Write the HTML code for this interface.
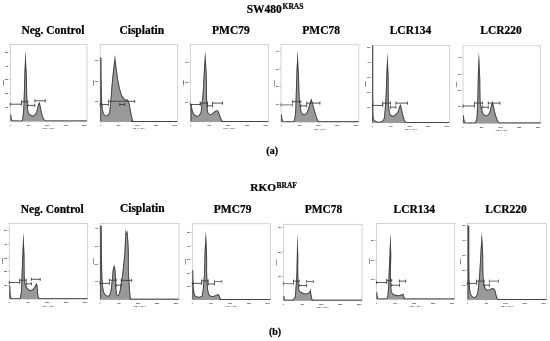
<!DOCTYPE html>
<html><head><meta charset="utf-8"><title>Cell cycle analysis</title>
<style>html,body{margin:0;padding:0;background:#fff}svg{display:block}</style>
</head><body>
<svg width="550" height="341" viewBox="0 0 550 341">
<rect width="550" height="341" fill="#fff"/>
<g font-family="'Liberation Serif', serif" font-weight="bold" fill="#000" stroke="#000" stroke-width="0.22" text-anchor="middle">
<text x="246.7" y="12.5" font-size="11.5" text-anchor="start">SW480<tspan font-size="7.5" x="282.6" y="8.8">KRAS</tspan></text>
<text x="250.3" y="190.7" font-size="11.3" text-anchor="start">RKO<tspan font-size="7.5" x="276.5" y="187.8">BRAF</tspan></text>
<text x="52.90" y="33.7" font-size="11.5">Neg. Control</text>
<text x="141.75" y="33.7" font-size="11.5">Cisplatin</text>
<text x="230.95" y="33.7" font-size="11.5">PMC79</text>
<text x="321.10" y="33.7" font-size="11.5">PMC78</text>
<text x="410.45" y="33.7" font-size="11.5">LCR134</text>
<text x="501.10" y="33.7" font-size="11.5">LCR220</text>
<text x="52.25" y="212.7" font-size="11.5">Neg. Control</text>
<text x="142.25" y="211.9" font-size="11.5">Cisplatin</text>
<text x="232.60" y="212.7" font-size="11.5">PMC79</text>
<text x="323.50" y="212.7" font-size="11.5">PMC78</text>
<text x="414.25" y="212.7" font-size="11.5">LCR134</text>
<text x="506.10" y="212.7" font-size="11.5">LCR220</text>
<text x="272.2" y="154" font-size="10">(a)</text>
<text x="275" y="335.1" font-size="10">(b)</text>
</g>
<g>
<rect x="10.30" y="44.40" width="76.70" height="76.60" fill="none" stroke="#c2c2c2" stroke-width="0.7"/>
<clipPath id="c0"><path d="M10.40,120.55 C10.40,119.54 10.40,115.51 10.40,114.50 C10.53,114.53 11.07,114.67 11.20,114.70 C11.27,115.33 11.33,117.55 11.60,118.50 C11.87,119.45 12.07,120.06 12.80,120.40 C13.53,120.74 14.58,120.53 16.00,120.55 C17.42,120.57 20.22,120.92 21.30,120.50 C22.38,120.08 22.30,118.42 22.50,118.00 C22.68,115.50 23.28,110.17 23.60,103.00 C23.92,95.83 24.08,83.70 24.40,75.00 C24.72,66.30 25.32,54.83 25.50,50.80 C25.70,54.83 26.37,66.30 26.70,75.00 C27.03,83.70 27.17,96.80 27.50,103.00 C27.83,109.20 28.20,110.27 28.70,112.20 C29.20,114.13 29.87,114.00 30.50,114.60 C31.13,115.20 31.83,115.80 32.50,115.80 C33.17,115.80 33.88,115.20 34.50,114.60 C35.12,114.00 35.62,113.80 36.20,112.20 C36.78,110.60 37.47,106.75 38.00,105.00 C38.53,103.25 39.17,102.25 39.40,101.70 C39.60,102.42 40.20,104.25 40.60,106.00 C41.00,107.75 41.32,110.20 41.80,112.20 C42.28,114.20 42.77,116.61 43.50,118.00 C44.23,119.39 45.12,120.12 46.20,120.55 C47.28,120.97 43.20,120.55 50.00,120.55 C56.80,120.55 80.83,120.55 87.00,120.55 L87.00,121.50 L10.40,121.50 Z"/></clipPath>
<path d="M10.40,120.55 C10.40,119.54 10.40,115.51 10.40,114.50 C10.53,114.53 11.07,114.67 11.20,114.70 C11.27,115.33 11.33,117.55 11.60,118.50 C11.87,119.45 12.07,120.06 12.80,120.40 C13.53,120.74 14.58,120.53 16.00,120.55 C17.42,120.57 20.22,120.92 21.30,120.50 C22.38,120.08 22.30,118.42 22.50,118.00 C22.68,115.50 23.28,110.17 23.60,103.00 C23.92,95.83 24.08,83.70 24.40,75.00 C24.72,66.30 25.32,54.83 25.50,50.80 C25.70,54.83 26.37,66.30 26.70,75.00 C27.03,83.70 27.17,96.80 27.50,103.00 C27.83,109.20 28.20,110.27 28.70,112.20 C29.20,114.13 29.87,114.00 30.50,114.60 C31.13,115.20 31.83,115.80 32.50,115.80 C33.17,115.80 33.88,115.20 34.50,114.60 C35.12,114.00 35.62,113.80 36.20,112.20 C36.78,110.60 37.47,106.75 38.00,105.00 C38.53,103.25 39.17,102.25 39.40,101.70 C39.60,102.42 40.20,104.25 40.60,106.00 C41.00,107.75 41.32,110.20 41.80,112.20 C42.28,114.20 42.77,116.61 43.50,118.00 C44.23,119.39 45.12,120.12 46.20,120.55 C47.28,120.97 43.20,120.55 50.00,120.55 C56.80,120.55 80.83,120.55 87.00,120.55 L87.00,121.50 L10.40,121.50 Z" fill="#999" stroke="none"/>
<path d="M10.40,120.55 C10.40,119.54 10.40,115.51 10.40,114.50 C10.53,114.53 11.07,114.67 11.20,114.70 C11.27,115.33 11.33,117.55 11.60,118.50 C11.87,119.45 12.07,120.06 12.80,120.40 C13.53,120.74 14.58,120.53 16.00,120.55 C17.42,120.57 20.22,120.92 21.30,120.50 C22.38,120.08 22.30,118.42 22.50,118.00 C22.68,115.50 23.28,110.17 23.60,103.00 C23.92,95.83 24.08,83.70 24.40,75.00 C24.72,66.30 25.32,54.83 25.50,50.80 C25.70,54.83 26.37,66.30 26.70,75.00 C27.03,83.70 27.17,96.80 27.50,103.00 C27.83,109.20 28.20,110.27 28.70,112.20 C29.20,114.13 29.87,114.00 30.50,114.60 C31.13,115.20 31.83,115.80 32.50,115.80 C33.17,115.80 33.88,115.20 34.50,114.60 C35.12,114.00 35.62,113.80 36.20,112.20 C36.78,110.60 37.47,106.75 38.00,105.00 C38.53,103.25 39.17,102.25 39.40,101.70 C39.60,102.42 40.20,104.25 40.60,106.00 C41.00,107.75 41.32,110.20 41.80,112.20 C42.28,114.20 42.77,116.61 43.50,118.00 C44.23,119.39 45.12,120.12 46.20,120.55 C47.28,120.97 43.20,120.55 50.00,120.55 C56.80,120.55 80.83,120.55 87.00,120.55" clip-path="url(#c0)" fill="none" stroke="#444" stroke-width="1.9" stroke-linejoin="round"/>
<path d="M10.30,104.20 H21.60 M10.30,102.70 v3 M21.60,102.70 v3 M21.60,101.70 H27.80 M21.60,100.20 v3 M27.80,100.20 v3 M27.80,105.40 H34.80 M27.80,103.90 v3 M34.80,103.90 v3 M34.80,100.80 H45.30 M34.80,99.30 v3 M45.30,99.30 v3 " fill="none" stroke="#383838" stroke-width="0.85"/>
<g font-family="'Liberation Sans', sans-serif" font-size="1.9" font-weight="bold" fill="#222" text-anchor="middle">
<text x="10.30" y="125.50">0</text>
<text x="28.81" y="125.50">50K</text>
<text x="47.31" y="125.50">100K</text>
<text x="65.82" y="125.50">150K</text>
<text x="84.33" y="125.50">200K</text>
<text x="48.65" y="128.70">FL2-A :: PE-A</text>
<text x="8.10" y="108.00" text-anchor="end">100</text>
<text x="8.10" y="94.20" text-anchor="end">200</text>
<text x="8.10" y="80.40" text-anchor="end">300</text>
<text x="8.10" y="66.60" text-anchor="end">400</text>
<text x="8.10" y="52.80" text-anchor="end">500</text>
<path d="M10.30,107.20 h-1.6 M10.30,93.40 h-1.6 M10.30,79.60 h-1.6 M10.30,65.80 h-1.6 M10.30,52.00 h-1.6 M10.30,121.00 v1.4 M28.81,121.00 v1.4 M47.31,121.00 v1.4 M65.82,121.00 v1.4 M84.33,121.00 v1.4 " fill="none" stroke="#999" stroke-width="0.5"/>
<text font-size="2" transform="translate(3.90,82.70) rotate(-90)">Count</text>
</g>
</g>
<g>
<rect x="100.20" y="44.40" width="77.30" height="77.10" fill="none" stroke="#c2c2c2" stroke-width="0.7"/>
<clipPath id="c1"><path d="M100.30,121.05 C100.30,110.46 100.30,68.09 100.30,57.50 C100.48,57.53 101.22,57.67 101.40,57.70 C101.43,61.42 101.47,72.45 101.60,80.00 C101.73,87.55 101.88,97.63 102.20,103.00 C102.52,108.37 103.03,110.22 103.50,112.20 C103.97,114.18 104.50,114.37 105.00,114.90 C105.50,115.43 106.00,115.45 106.50,115.40 C107.00,115.35 107.53,115.13 108.00,114.60 C108.47,114.07 109.08,112.60 109.30,112.20 C109.45,110.67 109.92,106.03 110.20,103.00 C110.48,99.97 110.70,97.67 111.00,94.00 C111.30,90.33 111.35,87.45 112.00,81.00 C112.65,74.55 114.42,59.58 114.90,55.30 C115.48,59.58 117.30,74.55 118.40,81.00 C119.50,87.45 120.65,91.23 121.50,94.00 C122.35,96.77 122.88,96.68 123.50,97.60 C124.12,98.52 124.78,99.13 125.20,99.50 C125.62,99.87 125.70,99.85 126.00,99.80 C126.30,99.75 126.67,99.12 127.00,99.20 C127.33,99.28 127.62,99.67 128.00,100.30 C128.38,100.93 128.78,101.02 129.30,103.00 C129.82,104.98 130.60,109.70 131.10,112.20 C131.60,114.70 131.92,116.53 132.30,118.00 C132.68,119.47 132.78,120.49 133.40,121.00 C134.02,121.51 128.65,121.04 136.00,121.05 C143.35,121.06 170.58,121.05 177.50,121.05 L177.50,122.00 L100.30,122.00 Z"/></clipPath>
<path d="M100.30,121.05 C100.30,110.46 100.30,68.09 100.30,57.50 C100.48,57.53 101.22,57.67 101.40,57.70 C101.43,61.42 101.47,72.45 101.60,80.00 C101.73,87.55 101.88,97.63 102.20,103.00 C102.52,108.37 103.03,110.22 103.50,112.20 C103.97,114.18 104.50,114.37 105.00,114.90 C105.50,115.43 106.00,115.45 106.50,115.40 C107.00,115.35 107.53,115.13 108.00,114.60 C108.47,114.07 109.08,112.60 109.30,112.20 C109.45,110.67 109.92,106.03 110.20,103.00 C110.48,99.97 110.70,97.67 111.00,94.00 C111.30,90.33 111.35,87.45 112.00,81.00 C112.65,74.55 114.42,59.58 114.90,55.30 C115.48,59.58 117.30,74.55 118.40,81.00 C119.50,87.45 120.65,91.23 121.50,94.00 C122.35,96.77 122.88,96.68 123.50,97.60 C124.12,98.52 124.78,99.13 125.20,99.50 C125.62,99.87 125.70,99.85 126.00,99.80 C126.30,99.75 126.67,99.12 127.00,99.20 C127.33,99.28 127.62,99.67 128.00,100.30 C128.38,100.93 128.78,101.02 129.30,103.00 C129.82,104.98 130.60,109.70 131.10,112.20 C131.60,114.70 131.92,116.53 132.30,118.00 C132.68,119.47 132.78,120.49 133.40,121.00 C134.02,121.51 128.65,121.04 136.00,121.05 C143.35,121.06 170.58,121.05 177.50,121.05 L177.50,122.00 L100.30,122.00 Z" fill="#999" stroke="none"/>
<path d="M100.30,121.05 C100.30,110.46 100.30,68.09 100.30,57.50 C100.48,57.53 101.22,57.67 101.40,57.70 C101.43,61.42 101.47,72.45 101.60,80.00 C101.73,87.55 101.88,97.63 102.20,103.00 C102.52,108.37 103.03,110.22 103.50,112.20 C103.97,114.18 104.50,114.37 105.00,114.90 C105.50,115.43 106.00,115.45 106.50,115.40 C107.00,115.35 107.53,115.13 108.00,114.60 C108.47,114.07 109.08,112.60 109.30,112.20 C109.45,110.67 109.92,106.03 110.20,103.00 C110.48,99.97 110.70,97.67 111.00,94.00 C111.30,90.33 111.35,87.45 112.00,81.00 C112.65,74.55 114.42,59.58 114.90,55.30 C115.48,59.58 117.30,74.55 118.40,81.00 C119.50,87.45 120.65,91.23 121.50,94.00 C122.35,96.77 122.88,96.68 123.50,97.60 C124.12,98.52 124.78,99.13 125.20,99.50 C125.62,99.87 125.70,99.85 126.00,99.80 C126.30,99.75 126.67,99.12 127.00,99.20 C127.33,99.28 127.62,99.67 128.00,100.30 C128.38,100.93 128.78,101.02 129.30,103.00 C129.82,104.98 130.60,109.70 131.10,112.20 C131.60,114.70 131.92,116.53 132.30,118.00 C132.68,119.47 132.78,120.49 133.40,121.00 C134.02,121.51 128.65,121.04 136.00,121.05 C143.35,121.06 170.58,121.05 177.50,121.05" clip-path="url(#c1)" fill="none" stroke="#444" stroke-width="1.9" stroke-linejoin="round"/>
<path d="M100.20,104.50 H108.40 M100.20,103.00 v3 M108.40,103.00 v3 M108.40,101.30 H134.70 M108.40,99.80 v3 M134.70,99.80 v3 M119.70,104.50 H124.70 M119.70,103.00 v3 M124.70,103.00 v3 " fill="none" stroke="#383838" stroke-width="0.85"/>
<g font-family="'Liberation Sans', sans-serif" font-size="1.9" font-weight="bold" fill="#222" text-anchor="middle">
<text x="100.20" y="126.00">0</text>
<text x="118.85" y="126.00">50K</text>
<text x="137.50" y="126.00">100K</text>
<text x="156.16" y="126.00">150K</text>
<text x="174.81" y="126.00">200K</text>
<text x="138.85" y="129.20">FL2-A :: PE-A</text>
<text x="98.00" y="102.00" text-anchor="end">100</text>
<text x="98.00" y="81.70" text-anchor="end">200</text>
<text x="98.00" y="61.40" text-anchor="end">300</text>
<path d="M100.20,101.20 h-1.6 M100.20,80.90 h-1.6 M100.20,60.60 h-1.6 M100.20,121.50 v1.4 M118.85,121.50 v1.4 M137.50,121.50 v1.4 M156.16,121.50 v1.4 M174.81,121.50 v1.4 " fill="none" stroke="#999" stroke-width="0.5"/>
<text font-size="2" transform="translate(93.80,82.95) rotate(-90)">Count</text>
</g>
</g>
<g>
<rect x="190.50" y="44.30" width="78.00" height="77.20" fill="none" stroke="#c2c2c2" stroke-width="0.7"/>
<clipPath id="c2"><path d="M190.60,121.05 C190.60,118.21 190.60,106.84 190.60,104.00 C190.75,104.03 191.35,104.17 191.50,104.20 C191.60,104.83 191.82,106.67 192.10,108.00 C192.38,109.33 192.72,111.03 193.20,112.20 C193.68,113.37 194.35,114.40 195.00,115.00 C195.65,115.60 196.43,115.82 197.10,115.80 C197.77,115.78 198.40,115.50 199.00,114.90 C199.60,114.30 200.42,112.65 200.70,112.20 C200.87,110.67 201.38,106.03 201.70,103.00 C202.02,99.97 202.27,98.67 202.60,94.00 C202.93,89.33 203.27,82.15 203.70,75.00 C204.13,67.85 204.95,55.08 205.20,51.10 C205.45,55.08 206.40,67.85 206.70,75.00 C207.00,82.15 206.90,89.33 207.00,94.00 C207.10,98.67 207.10,99.97 207.30,103.00 C207.50,106.03 207.70,110.33 208.20,112.20 C208.70,114.07 209.58,114.03 210.30,114.20 C211.02,114.37 211.72,113.73 212.50,113.20 C213.28,112.67 214.23,111.50 215.00,111.00 C215.77,110.50 216.47,110.03 217.10,110.20 C217.73,110.37 218.23,110.92 218.80,112.00 C219.37,113.08 220.00,115.40 220.50,116.70 C221.00,118.00 221.38,119.08 221.80,119.80 C222.22,120.52 222.13,120.84 223.00,121.05 C223.87,121.26 219.42,121.05 227.00,121.05 C234.58,121.05 261.58,121.05 268.50,121.05 L268.50,122.00 L190.60,122.00 Z"/></clipPath>
<path d="M190.60,121.05 C190.60,118.21 190.60,106.84 190.60,104.00 C190.75,104.03 191.35,104.17 191.50,104.20 C191.60,104.83 191.82,106.67 192.10,108.00 C192.38,109.33 192.72,111.03 193.20,112.20 C193.68,113.37 194.35,114.40 195.00,115.00 C195.65,115.60 196.43,115.82 197.10,115.80 C197.77,115.78 198.40,115.50 199.00,114.90 C199.60,114.30 200.42,112.65 200.70,112.20 C200.87,110.67 201.38,106.03 201.70,103.00 C202.02,99.97 202.27,98.67 202.60,94.00 C202.93,89.33 203.27,82.15 203.70,75.00 C204.13,67.85 204.95,55.08 205.20,51.10 C205.45,55.08 206.40,67.85 206.70,75.00 C207.00,82.15 206.90,89.33 207.00,94.00 C207.10,98.67 207.10,99.97 207.30,103.00 C207.50,106.03 207.70,110.33 208.20,112.20 C208.70,114.07 209.58,114.03 210.30,114.20 C211.02,114.37 211.72,113.73 212.50,113.20 C213.28,112.67 214.23,111.50 215.00,111.00 C215.77,110.50 216.47,110.03 217.10,110.20 C217.73,110.37 218.23,110.92 218.80,112.00 C219.37,113.08 220.00,115.40 220.50,116.70 C221.00,118.00 221.38,119.08 221.80,119.80 C222.22,120.52 222.13,120.84 223.00,121.05 C223.87,121.26 219.42,121.05 227.00,121.05 C234.58,121.05 261.58,121.05 268.50,121.05 L268.50,122.00 L190.60,122.00 Z" fill="#999" stroke="none"/>
<path d="M190.60,121.05 C190.60,118.21 190.60,106.84 190.60,104.00 C190.75,104.03 191.35,104.17 191.50,104.20 C191.60,104.83 191.82,106.67 192.10,108.00 C192.38,109.33 192.72,111.03 193.20,112.20 C193.68,113.37 194.35,114.40 195.00,115.00 C195.65,115.60 196.43,115.82 197.10,115.80 C197.77,115.78 198.40,115.50 199.00,114.90 C199.60,114.30 200.42,112.65 200.70,112.20 C200.87,110.67 201.38,106.03 201.70,103.00 C202.02,99.97 202.27,98.67 202.60,94.00 C202.93,89.33 203.27,82.15 203.70,75.00 C204.13,67.85 204.95,55.08 205.20,51.10 C205.45,55.08 206.40,67.85 206.70,75.00 C207.00,82.15 206.90,89.33 207.00,94.00 C207.10,98.67 207.10,99.97 207.30,103.00 C207.50,106.03 207.70,110.33 208.20,112.20 C208.70,114.07 209.58,114.03 210.30,114.20 C211.02,114.37 211.72,113.73 212.50,113.20 C213.28,112.67 214.23,111.50 215.00,111.00 C215.77,110.50 216.47,110.03 217.10,110.20 C217.73,110.37 218.23,110.92 218.80,112.00 C219.37,113.08 220.00,115.40 220.50,116.70 C221.00,118.00 221.38,119.08 221.80,119.80 C222.22,120.52 222.13,120.84 223.00,121.05 C223.87,121.26 219.42,121.05 227.00,121.05 C234.58,121.05 261.58,121.05 268.50,121.05" clip-path="url(#c2)" fill="none" stroke="#444" stroke-width="1.9" stroke-linejoin="round"/>
<path d="M190.50,104.50 H200.30 M190.50,103.00 v3 M200.30,103.00 v3 M200.30,103.10 H207.50 M200.30,101.60 v3 M207.50,101.60 v3 M207.50,105.80 H212.50 M207.50,104.30 v3 M212.50,104.30 v3 M212.50,103.10 H222.50 M212.50,101.60 v3 M222.50,101.60 v3 " fill="none" stroke="#383838" stroke-width="0.85"/>
<g font-family="'Liberation Sans', sans-serif" font-size="1.9" font-weight="bold" fill="#222" text-anchor="middle">
<text x="190.50" y="126.00">0</text>
<text x="209.32" y="126.00">50K</text>
<text x="228.14" y="126.00">100K</text>
<text x="246.96" y="126.00">150K</text>
<text x="265.78" y="126.00">200K</text>
<text x="229.50" y="129.20">FL2-A :: PE-A</text>
<text x="188.30" y="102.60" text-anchor="end">100</text>
<text x="188.30" y="82.90" text-anchor="end">200</text>
<text x="188.30" y="63.20" text-anchor="end">300</text>
<path d="M190.50,101.80 h-1.6 M190.50,82.10 h-1.6 M190.50,62.40 h-1.6 M190.50,121.50 v1.4 M209.32,121.50 v1.4 M228.14,121.50 v1.4 M246.96,121.50 v1.4 M265.78,121.50 v1.4 " fill="none" stroke="#999" stroke-width="0.5"/>
<text font-size="2" transform="translate(184.10,82.90) rotate(-90)">Count</text>
</g>
</g>
<g>
<rect x="281.00" y="44.70" width="77.80" height="77.10" fill="none" stroke="#c2c2c2" stroke-width="0.7"/>
<clipPath id="c3"><path d="M281.10,121.35 C281.10,120.21 281.10,115.64 281.10,114.50 C281.23,114.53 281.77,114.67 281.90,114.70 C281.98,115.42 282.10,117.92 282.40,119.00 C282.70,120.08 282.77,120.81 283.70,121.20 C284.63,121.59 286.45,121.33 288.00,121.35 C289.55,121.37 292.00,121.52 293.00,121.30 C294.00,121.08 293.83,120.22 294.00,120.00 C294.20,118.70 294.90,116.53 295.20,112.20 C295.50,107.87 295.60,100.20 295.80,94.00 C296.00,87.80 296.10,82.25 296.40,75.00 C296.70,67.75 297.40,54.58 297.60,50.50 C297.82,54.58 298.58,67.75 298.90,75.00 C299.22,82.25 299.30,89.33 299.50,94.00 C299.70,98.67 299.73,99.97 300.10,103.00 C300.47,106.03 301.17,110.40 301.70,112.20 C302.23,114.00 302.77,113.47 303.30,113.80 C303.83,114.13 304.32,114.50 304.90,114.20 C305.48,113.90 306.20,113.10 306.80,112.00 C307.40,110.90 307.97,109.27 308.50,107.60 C309.03,105.93 309.53,103.52 310.00,102.00 C310.47,100.48 311.08,99.08 311.30,98.50 C311.50,99.08 312.05,100.48 312.50,102.00 C312.95,103.52 313.30,105.15 314.00,107.60 C314.70,110.05 316.00,114.63 316.70,116.70 C317.40,118.77 317.73,119.22 318.20,120.00 C318.67,120.78 318.53,121.12 319.50,121.35 C320.47,121.57 317.45,121.35 324.00,121.35 C330.55,121.35 353.00,121.35 358.80,121.35 L358.80,122.30 L281.10,122.30 Z"/></clipPath>
<path d="M281.10,121.35 C281.10,120.21 281.10,115.64 281.10,114.50 C281.23,114.53 281.77,114.67 281.90,114.70 C281.98,115.42 282.10,117.92 282.40,119.00 C282.70,120.08 282.77,120.81 283.70,121.20 C284.63,121.59 286.45,121.33 288.00,121.35 C289.55,121.37 292.00,121.52 293.00,121.30 C294.00,121.08 293.83,120.22 294.00,120.00 C294.20,118.70 294.90,116.53 295.20,112.20 C295.50,107.87 295.60,100.20 295.80,94.00 C296.00,87.80 296.10,82.25 296.40,75.00 C296.70,67.75 297.40,54.58 297.60,50.50 C297.82,54.58 298.58,67.75 298.90,75.00 C299.22,82.25 299.30,89.33 299.50,94.00 C299.70,98.67 299.73,99.97 300.10,103.00 C300.47,106.03 301.17,110.40 301.70,112.20 C302.23,114.00 302.77,113.47 303.30,113.80 C303.83,114.13 304.32,114.50 304.90,114.20 C305.48,113.90 306.20,113.10 306.80,112.00 C307.40,110.90 307.97,109.27 308.50,107.60 C309.03,105.93 309.53,103.52 310.00,102.00 C310.47,100.48 311.08,99.08 311.30,98.50 C311.50,99.08 312.05,100.48 312.50,102.00 C312.95,103.52 313.30,105.15 314.00,107.60 C314.70,110.05 316.00,114.63 316.70,116.70 C317.40,118.77 317.73,119.22 318.20,120.00 C318.67,120.78 318.53,121.12 319.50,121.35 C320.47,121.57 317.45,121.35 324.00,121.35 C330.55,121.35 353.00,121.35 358.80,121.35 L358.80,122.30 L281.10,122.30 Z" fill="#999" stroke="none"/>
<path d="M281.10,121.35 C281.10,120.21 281.10,115.64 281.10,114.50 C281.23,114.53 281.77,114.67 281.90,114.70 C281.98,115.42 282.10,117.92 282.40,119.00 C282.70,120.08 282.77,120.81 283.70,121.20 C284.63,121.59 286.45,121.33 288.00,121.35 C289.55,121.37 292.00,121.52 293.00,121.30 C294.00,121.08 293.83,120.22 294.00,120.00 C294.20,118.70 294.90,116.53 295.20,112.20 C295.50,107.87 295.60,100.20 295.80,94.00 C296.00,87.80 296.10,82.25 296.40,75.00 C296.70,67.75 297.40,54.58 297.60,50.50 C297.82,54.58 298.58,67.75 298.90,75.00 C299.22,82.25 299.30,89.33 299.50,94.00 C299.70,98.67 299.73,99.97 300.10,103.00 C300.47,106.03 301.17,110.40 301.70,112.20 C302.23,114.00 302.77,113.47 303.30,113.80 C303.83,114.13 304.32,114.50 304.90,114.20 C305.48,113.90 306.20,113.10 306.80,112.00 C307.40,110.90 307.97,109.27 308.50,107.60 C309.03,105.93 309.53,103.52 310.00,102.00 C310.47,100.48 311.08,99.08 311.30,98.50 C311.50,99.08 312.05,100.48 312.50,102.00 C312.95,103.52 313.30,105.15 314.00,107.60 C314.70,110.05 316.00,114.63 316.70,116.70 C317.40,118.77 317.73,119.22 318.20,120.00 C318.67,120.78 318.53,121.12 319.50,121.35 C320.47,121.57 317.45,121.35 324.00,121.35 C330.55,121.35 353.00,121.35 358.80,121.35" clip-path="url(#c3)" fill="none" stroke="#444" stroke-width="1.9" stroke-linejoin="round"/>
<path d="M292.60,101.70 H300.80 M292.60,100.20 v3 M300.80,100.20 v3 M300.80,105.80 H306.70 M300.80,104.30 v3 M306.70,104.30 v3 M306.70,103.10 H319.90 M306.70,101.60 v3 M319.90,101.60 v3 " fill="none" stroke="#383838" stroke-width="0.85"/>
<path d="M281.00,104.90 H292.60 M281.00,103.40 v3 M292.60,103.40 v3 " fill="none" stroke="#606060" stroke-width="0.85"/>
<g font-family="'Liberation Sans', sans-serif" font-size="1.9" font-weight="bold" fill="#222" text-anchor="middle">
<text x="281.00" y="126.30">0</text>
<text x="299.77" y="126.30">50K</text>
<text x="318.54" y="126.30">100K</text>
<text x="337.32" y="126.30">150K</text>
<text x="356.09" y="126.30">200K</text>
<text x="319.90" y="129.50">FL2-A :: PE-A</text>
<text x="278.80" y="104.90" text-anchor="end">100</text>
<text x="278.80" y="87.20" text-anchor="end">200</text>
<text x="278.80" y="69.50" text-anchor="end">300</text>
<text x="278.80" y="51.80" text-anchor="end">400</text>
<path d="M281.00,104.10 h-1.6 M281.00,86.40 h-1.6 M281.00,68.70 h-1.6 M281.00,51.00 h-1.6 M281.00,121.80 v1.4 M299.77,121.80 v1.4 M318.54,121.80 v1.4 M337.32,121.80 v1.4 M356.09,121.80 v1.4 " fill="none" stroke="#999" stroke-width="0.5"/>
<text font-size="2" transform="translate(274.60,83.25) rotate(-90)">Count</text>
</g>
</g>
<g>
<rect x="372.50" y="45.40" width="77.00" height="77.10" fill="none" stroke="#c2c2c2" stroke-width="0.7"/>
<clipPath id="c4"><path d="M372.20,122.05 C372.20,109.31 372.20,58.34 372.20,45.60 C372.37,45.60 373.03,45.60 373.20,45.60 C373.22,54.67 373.23,88.15 373.30,100.00 C373.37,111.85 373.30,113.30 373.60,116.70 C373.90,120.10 374.33,119.57 375.10,120.40 C375.87,121.23 377.22,121.53 378.20,121.70 C379.18,121.87 380.25,121.60 381.00,121.40 C381.75,121.20 382.42,120.65 382.70,120.50 C382.93,119.87 383.68,119.60 384.10,116.70 C384.52,113.80 384.93,106.88 385.20,103.10 C385.47,99.32 385.50,98.68 385.70,94.00 C385.90,89.32 386.10,81.90 386.40,75.00 C386.70,68.10 387.32,56.33 387.50,52.60 C387.67,56.33 388.30,68.10 388.50,75.00 C388.70,81.90 388.63,89.32 388.70,94.00 C388.77,98.68 388.72,100.07 388.90,103.10 C389.08,106.13 389.45,110.25 389.80,112.20 C390.15,114.15 390.52,114.20 391.00,114.80 C391.48,115.40 392.03,115.80 392.70,115.80 C393.37,115.80 394.23,115.40 395.00,114.80 C395.77,114.20 396.63,113.42 397.30,112.20 C397.97,110.98 398.47,108.87 399.00,107.50 C399.53,106.13 400.25,104.58 400.50,104.00 C400.67,104.58 401.17,106.13 401.50,107.50 C401.83,108.87 402.00,110.20 402.50,112.20 C403.00,114.20 403.95,117.95 404.50,119.50 C405.05,121.05 405.33,121.08 405.80,121.50 C406.27,121.92 406.27,121.96 407.30,122.05 C408.33,122.14 404.97,122.05 412.00,122.05 C419.03,122.05 443.25,122.05 449.50,122.05 L449.50,123.00 L372.20,123.00 Z"/></clipPath>
<path d="M372.20,122.05 C372.20,109.31 372.20,58.34 372.20,45.60 C372.37,45.60 373.03,45.60 373.20,45.60 C373.22,54.67 373.23,88.15 373.30,100.00 C373.37,111.85 373.30,113.30 373.60,116.70 C373.90,120.10 374.33,119.57 375.10,120.40 C375.87,121.23 377.22,121.53 378.20,121.70 C379.18,121.87 380.25,121.60 381.00,121.40 C381.75,121.20 382.42,120.65 382.70,120.50 C382.93,119.87 383.68,119.60 384.10,116.70 C384.52,113.80 384.93,106.88 385.20,103.10 C385.47,99.32 385.50,98.68 385.70,94.00 C385.90,89.32 386.10,81.90 386.40,75.00 C386.70,68.10 387.32,56.33 387.50,52.60 C387.67,56.33 388.30,68.10 388.50,75.00 C388.70,81.90 388.63,89.32 388.70,94.00 C388.77,98.68 388.72,100.07 388.90,103.10 C389.08,106.13 389.45,110.25 389.80,112.20 C390.15,114.15 390.52,114.20 391.00,114.80 C391.48,115.40 392.03,115.80 392.70,115.80 C393.37,115.80 394.23,115.40 395.00,114.80 C395.77,114.20 396.63,113.42 397.30,112.20 C397.97,110.98 398.47,108.87 399.00,107.50 C399.53,106.13 400.25,104.58 400.50,104.00 C400.67,104.58 401.17,106.13 401.50,107.50 C401.83,108.87 402.00,110.20 402.50,112.20 C403.00,114.20 403.95,117.95 404.50,119.50 C405.05,121.05 405.33,121.08 405.80,121.50 C406.27,121.92 406.27,121.96 407.30,122.05 C408.33,122.14 404.97,122.05 412.00,122.05 C419.03,122.05 443.25,122.05 449.50,122.05 L449.50,123.00 L372.20,123.00 Z" fill="#999" stroke="none"/>
<path d="M372.20,122.05 C372.20,109.31 372.20,58.34 372.20,45.60 C372.37,45.60 373.03,45.60 373.20,45.60 C373.22,54.67 373.23,88.15 373.30,100.00 C373.37,111.85 373.30,113.30 373.60,116.70 C373.90,120.10 374.33,119.57 375.10,120.40 C375.87,121.23 377.22,121.53 378.20,121.70 C379.18,121.87 380.25,121.60 381.00,121.40 C381.75,121.20 382.42,120.65 382.70,120.50 C382.93,119.87 383.68,119.60 384.10,116.70 C384.52,113.80 384.93,106.88 385.20,103.10 C385.47,99.32 385.50,98.68 385.70,94.00 C385.90,89.32 386.10,81.90 386.40,75.00 C386.70,68.10 387.32,56.33 387.50,52.60 C387.67,56.33 388.30,68.10 388.50,75.00 C388.70,81.90 388.63,89.32 388.70,94.00 C388.77,98.68 388.72,100.07 388.90,103.10 C389.08,106.13 389.45,110.25 389.80,112.20 C390.15,114.15 390.52,114.20 391.00,114.80 C391.48,115.40 392.03,115.80 392.70,115.80 C393.37,115.80 394.23,115.40 395.00,114.80 C395.77,114.20 396.63,113.42 397.30,112.20 C397.97,110.98 398.47,108.87 399.00,107.50 C399.53,106.13 400.25,104.58 400.50,104.00 C400.67,104.58 401.17,106.13 401.50,107.50 C401.83,108.87 402.00,110.20 402.50,112.20 C403.00,114.20 403.95,117.95 404.50,119.50 C405.05,121.05 405.33,121.08 405.80,121.50 C406.27,121.92 406.27,121.96 407.30,122.05 C408.33,122.14 404.97,122.05 412.00,122.05 C419.03,122.05 443.25,122.05 449.50,122.05" clip-path="url(#c4)" fill="none" stroke="#444" stroke-width="1.9" stroke-linejoin="round"/>
<path d="M372.50,105.40 H382.70 M372.50,103.90 v3 M382.70,103.90 v3 M382.70,103.10 H390.50 M382.70,101.60 v3 M390.50,101.60 v3 M390.50,107.20 H395.90 M390.50,105.70 v3 M395.90,105.70 v3 M395.90,103.10 H407.50 M395.90,101.60 v3 M407.50,101.60 v3 " fill="none" stroke="#383838" stroke-width="0.85"/>
<g font-family="'Liberation Sans', sans-serif" font-size="1.9" font-weight="bold" fill="#222" text-anchor="middle">
<text x="372.50" y="127.00">0</text>
<text x="391.08" y="127.00">50K</text>
<text x="409.66" y="127.00">100K</text>
<text x="428.24" y="127.00">150K</text>
<text x="446.82" y="127.00">200K</text>
<text x="411.00" y="130.20">FL2-A :: PE-A</text>
<text x="370.30" y="108.20" text-anchor="end">100</text>
<text x="370.30" y="93.10" text-anchor="end">200</text>
<text x="370.30" y="78.00" text-anchor="end">300</text>
<text x="370.30" y="62.90" text-anchor="end">400</text>
<text x="370.30" y="47.80" text-anchor="end">500</text>
<path d="M372.50,107.40 h-1.6 M372.50,92.30 h-1.6 M372.50,77.20 h-1.6 M372.50,62.10 h-1.6 M372.50,47.00 h-1.6 M372.50,122.50 v1.4 M391.08,122.50 v1.4 M409.66,122.50 v1.4 M428.24,122.50 v1.4 M446.82,122.50 v1.4 " fill="none" stroke="#999" stroke-width="0.5"/>
<text font-size="2" transform="translate(366.10,83.95) rotate(-90)">Count</text>
</g>
</g>
<g>
<rect x="463.00" y="45.80" width="77.70" height="77.20" fill="none" stroke="#c2c2c2" stroke-width="0.7"/>
<clipPath id="c5"><path d="M463.10,122.55 C463.10,121.36 463.10,116.59 463.10,115.40 C463.23,115.43 463.77,115.57 463.90,115.60 C463.98,116.33 464.10,118.87 464.40,120.00 C464.70,121.13 464.77,121.98 465.70,122.40 C466.63,122.83 468.53,122.53 470.00,122.55 C471.47,122.57 473.58,122.72 474.50,122.55 C475.42,122.38 475.33,121.67 475.50,121.50 C475.68,120.70 476.27,121.28 476.60,116.70 C476.93,112.12 477.28,100.95 477.50,94.00 C477.72,87.05 477.67,82.00 477.90,75.00 C478.13,68.00 478.73,55.83 478.90,52.00 C479.10,55.83 479.85,68.00 480.10,75.00 C480.35,82.00 480.28,89.32 480.40,94.00 C480.52,98.68 480.40,100.07 480.80,103.10 C481.20,106.13 482.22,110.28 482.80,112.20 C483.38,114.12 483.77,114.07 484.30,114.60 C484.83,115.13 485.42,115.43 486.00,115.40 C486.58,115.37 487.23,114.93 487.80,114.40 C488.37,113.87 488.87,113.60 489.40,112.20 C489.93,110.80 490.47,107.90 491.00,106.00 C491.53,104.10 492.33,101.67 492.60,100.80 C492.80,101.67 493.38,104.10 493.80,106.00 C494.22,107.90 494.50,109.95 495.10,112.20 C495.70,114.45 496.80,117.90 497.40,119.50 C498.00,121.10 498.27,121.29 498.70,121.80 C499.13,122.31 498.95,122.42 500.00,122.55 C501.05,122.67 498.22,122.55 505.00,122.55 C511.78,122.55 534.75,122.55 540.70,122.55 L540.70,123.50 L463.10,123.50 Z"/></clipPath>
<path d="M463.10,122.55 C463.10,121.36 463.10,116.59 463.10,115.40 C463.23,115.43 463.77,115.57 463.90,115.60 C463.98,116.33 464.10,118.87 464.40,120.00 C464.70,121.13 464.77,121.98 465.70,122.40 C466.63,122.83 468.53,122.53 470.00,122.55 C471.47,122.57 473.58,122.72 474.50,122.55 C475.42,122.38 475.33,121.67 475.50,121.50 C475.68,120.70 476.27,121.28 476.60,116.70 C476.93,112.12 477.28,100.95 477.50,94.00 C477.72,87.05 477.67,82.00 477.90,75.00 C478.13,68.00 478.73,55.83 478.90,52.00 C479.10,55.83 479.85,68.00 480.10,75.00 C480.35,82.00 480.28,89.32 480.40,94.00 C480.52,98.68 480.40,100.07 480.80,103.10 C481.20,106.13 482.22,110.28 482.80,112.20 C483.38,114.12 483.77,114.07 484.30,114.60 C484.83,115.13 485.42,115.43 486.00,115.40 C486.58,115.37 487.23,114.93 487.80,114.40 C488.37,113.87 488.87,113.60 489.40,112.20 C489.93,110.80 490.47,107.90 491.00,106.00 C491.53,104.10 492.33,101.67 492.60,100.80 C492.80,101.67 493.38,104.10 493.80,106.00 C494.22,107.90 494.50,109.95 495.10,112.20 C495.70,114.45 496.80,117.90 497.40,119.50 C498.00,121.10 498.27,121.29 498.70,121.80 C499.13,122.31 498.95,122.42 500.00,122.55 C501.05,122.67 498.22,122.55 505.00,122.55 C511.78,122.55 534.75,122.55 540.70,122.55 L540.70,123.50 L463.10,123.50 Z" fill="#999" stroke="none"/>
<path d="M463.10,122.55 C463.10,121.36 463.10,116.59 463.10,115.40 C463.23,115.43 463.77,115.57 463.90,115.60 C463.98,116.33 464.10,118.87 464.40,120.00 C464.70,121.13 464.77,121.98 465.70,122.40 C466.63,122.83 468.53,122.53 470.00,122.55 C471.47,122.57 473.58,122.72 474.50,122.55 C475.42,122.38 475.33,121.67 475.50,121.50 C475.68,120.70 476.27,121.28 476.60,116.70 C476.93,112.12 477.28,100.95 477.50,94.00 C477.72,87.05 477.67,82.00 477.90,75.00 C478.13,68.00 478.73,55.83 478.90,52.00 C479.10,55.83 479.85,68.00 480.10,75.00 C480.35,82.00 480.28,89.32 480.40,94.00 C480.52,98.68 480.40,100.07 480.80,103.10 C481.20,106.13 482.22,110.28 482.80,112.20 C483.38,114.12 483.77,114.07 484.30,114.60 C484.83,115.13 485.42,115.43 486.00,115.40 C486.58,115.37 487.23,114.93 487.80,114.40 C488.37,113.87 488.87,113.60 489.40,112.20 C489.93,110.80 490.47,107.90 491.00,106.00 C491.53,104.10 492.33,101.67 492.60,100.80 C492.80,101.67 493.38,104.10 493.80,106.00 C494.22,107.90 494.50,109.95 495.10,112.20 C495.70,114.45 496.80,117.90 497.40,119.50 C498.00,121.10 498.27,121.29 498.70,121.80 C499.13,122.31 498.95,122.42 500.00,122.55 C501.05,122.67 498.22,122.55 505.00,122.55 C511.78,122.55 534.75,122.55 540.70,122.55" clip-path="url(#c5)" fill="none" stroke="#444" stroke-width="1.9" stroke-linejoin="round"/>
<path d="M463.00,106.00 H474.60 M463.00,104.50 v3 M474.60,104.50 v3 M474.60,103.10 H482.60 M474.60,101.60 v3 M482.60,101.60 v3 M482.60,107.20 H488.30 M482.60,105.70 v3 M488.30,105.70 v3 M488.30,103.10 H499.90 M488.30,101.60 v3 M499.90,101.60 v3 " fill="none" stroke="#383838" stroke-width="0.85"/>
<g font-family="'Liberation Sans', sans-serif" font-size="1.9" font-weight="bold" fill="#222" text-anchor="middle">
<text x="463.00" y="127.50">0</text>
<text x="481.75" y="127.50">50K</text>
<text x="500.50" y="127.50">100K</text>
<text x="519.24" y="127.50">150K</text>
<text x="537.99" y="127.50">200K</text>
<text x="501.85" y="130.70">FL2-A :: PE-A</text>
<text x="460.80" y="107.40" text-anchor="end">100</text>
<text x="460.80" y="91.00" text-anchor="end">200</text>
<text x="460.80" y="74.60" text-anchor="end">300</text>
<text x="460.80" y="58.20" text-anchor="end">400</text>
<path d="M463.00,106.60 h-1.6 M463.00,90.20 h-1.6 M463.00,73.80 h-1.6 M463.00,57.40 h-1.6 M463.00,123.00 v1.4 M481.75,123.00 v1.4 M500.50,123.00 v1.4 M519.24,123.00 v1.4 M537.99,123.00 v1.4 " fill="none" stroke="#999" stroke-width="0.5"/>
<text font-size="2" transform="translate(456.60,84.40) rotate(-90)">Count</text>
</g>
</g>
<g>
<rect x="9.30" y="223.40" width="78.40" height="75.40" fill="none" stroke="#c2c2c2" stroke-width="0.7"/>
<clipPath id="c6"><path d="M9.40,298.35 C9.40,296.16 9.40,287.39 9.40,285.20 C9.53,285.23 10.07,285.37 10.20,285.40 C10.28,286.95 10.52,292.63 10.70,294.70 C10.88,296.77 11.05,297.19 11.30,297.80 C11.55,298.41 11.42,298.26 12.20,298.35 C12.98,298.44 14.87,298.35 16.00,298.35 C17.13,298.35 18.38,298.41 19.00,298.35 C19.62,298.29 19.58,298.06 19.70,298.00 C19.93,296.70 20.77,294.53 21.10,290.20 C21.43,285.87 21.47,278.20 21.70,272.00 C21.93,265.80 22.22,259.63 22.50,253.00 C22.78,246.37 23.25,235.67 23.40,232.20 C23.57,235.67 24.20,246.37 24.40,253.00 C24.60,259.63 24.50,267.32 24.60,272.00 C24.70,276.68 24.75,278.83 25.00,281.10 C25.25,283.37 25.60,284.32 26.10,285.60 C26.60,286.88 27.25,288.03 28.00,288.80 C28.75,289.57 29.80,290.17 30.60,290.20 C31.40,290.23 32.12,289.62 32.80,289.00 C33.48,288.38 34.22,287.25 34.70,286.50 C35.18,285.75 35.40,285.13 35.70,284.50 C36.00,283.87 36.37,283.00 36.50,282.70 C36.58,283.00 36.83,283.87 37.00,284.50 C37.17,285.13 37.27,284.65 37.50,286.50 C37.73,288.35 38.12,293.72 38.40,295.60 C38.68,297.48 38.90,297.34 39.20,297.80 C39.50,298.26 39.40,298.26 40.20,298.35 C41.00,298.44 36.08,298.35 44.00,298.35 C51.92,298.35 80.42,298.35 87.70,298.35 L87.70,299.30 L9.40,299.30 Z"/></clipPath>
<path d="M9.40,298.35 C9.40,296.16 9.40,287.39 9.40,285.20 C9.53,285.23 10.07,285.37 10.20,285.40 C10.28,286.95 10.52,292.63 10.70,294.70 C10.88,296.77 11.05,297.19 11.30,297.80 C11.55,298.41 11.42,298.26 12.20,298.35 C12.98,298.44 14.87,298.35 16.00,298.35 C17.13,298.35 18.38,298.41 19.00,298.35 C19.62,298.29 19.58,298.06 19.70,298.00 C19.93,296.70 20.77,294.53 21.10,290.20 C21.43,285.87 21.47,278.20 21.70,272.00 C21.93,265.80 22.22,259.63 22.50,253.00 C22.78,246.37 23.25,235.67 23.40,232.20 C23.57,235.67 24.20,246.37 24.40,253.00 C24.60,259.63 24.50,267.32 24.60,272.00 C24.70,276.68 24.75,278.83 25.00,281.10 C25.25,283.37 25.60,284.32 26.10,285.60 C26.60,286.88 27.25,288.03 28.00,288.80 C28.75,289.57 29.80,290.17 30.60,290.20 C31.40,290.23 32.12,289.62 32.80,289.00 C33.48,288.38 34.22,287.25 34.70,286.50 C35.18,285.75 35.40,285.13 35.70,284.50 C36.00,283.87 36.37,283.00 36.50,282.70 C36.58,283.00 36.83,283.87 37.00,284.50 C37.17,285.13 37.27,284.65 37.50,286.50 C37.73,288.35 38.12,293.72 38.40,295.60 C38.68,297.48 38.90,297.34 39.20,297.80 C39.50,298.26 39.40,298.26 40.20,298.35 C41.00,298.44 36.08,298.35 44.00,298.35 C51.92,298.35 80.42,298.35 87.70,298.35 L87.70,299.30 L9.40,299.30 Z" fill="#999" stroke="none"/>
<path d="M9.40,298.35 C9.40,296.16 9.40,287.39 9.40,285.20 C9.53,285.23 10.07,285.37 10.20,285.40 C10.28,286.95 10.52,292.63 10.70,294.70 C10.88,296.77 11.05,297.19 11.30,297.80 C11.55,298.41 11.42,298.26 12.20,298.35 C12.98,298.44 14.87,298.35 16.00,298.35 C17.13,298.35 18.38,298.41 19.00,298.35 C19.62,298.29 19.58,298.06 19.70,298.00 C19.93,296.70 20.77,294.53 21.10,290.20 C21.43,285.87 21.47,278.20 21.70,272.00 C21.93,265.80 22.22,259.63 22.50,253.00 C22.78,246.37 23.25,235.67 23.40,232.20 C23.57,235.67 24.20,246.37 24.40,253.00 C24.60,259.63 24.50,267.32 24.60,272.00 C24.70,276.68 24.75,278.83 25.00,281.10 C25.25,283.37 25.60,284.32 26.10,285.60 C26.60,286.88 27.25,288.03 28.00,288.80 C28.75,289.57 29.80,290.17 30.60,290.20 C31.40,290.23 32.12,289.62 32.80,289.00 C33.48,288.38 34.22,287.25 34.70,286.50 C35.18,285.75 35.40,285.13 35.70,284.50 C36.00,283.87 36.37,283.00 36.50,282.70 C36.58,283.00 36.83,283.87 37.00,284.50 C37.17,285.13 37.27,284.65 37.50,286.50 C37.73,288.35 38.12,293.72 38.40,295.60 C38.68,297.48 38.90,297.34 39.20,297.80 C39.50,298.26 39.40,298.26 40.20,298.35 C41.00,298.44 36.08,298.35 44.00,298.35 C51.92,298.35 80.42,298.35 87.70,298.35" clip-path="url(#c6)" fill="none" stroke="#444" stroke-width="1.9" stroke-linejoin="round"/>
<path d="M9.30,282.50 H19.70 M9.30,281.00 v3 M19.70,281.00 v3 M19.70,280.20 H26.30 M19.70,278.70 v3 M26.30,278.70 v3 M26.30,283.80 H31.40 M26.30,282.30 v3 M31.40,282.30 v3 M31.40,279.30 H40.20 M31.40,277.80 v3 M40.20,277.80 v3 " fill="none" stroke="#383838" stroke-width="0.85"/>
<g font-family="'Liberation Sans', sans-serif" font-size="1.9" font-weight="bold" fill="#222" text-anchor="middle">
<text x="9.30" y="303.30">0</text>
<text x="28.22" y="303.30">50K</text>
<text x="47.13" y="303.30">100K</text>
<text x="66.05" y="303.30">150K</text>
<text x="84.97" y="303.30">200K</text>
<text x="48.50" y="306.50">FL2-A :: PE-A</text>
<text x="7.10" y="285.90" text-anchor="end">100</text>
<text x="7.10" y="272.20" text-anchor="end">200</text>
<text x="7.10" y="258.50" text-anchor="end">300</text>
<text x="7.10" y="244.80" text-anchor="end">400</text>
<text x="7.10" y="231.10" text-anchor="end">500</text>
<path d="M9.30,285.10 h-1.6 M9.30,271.40 h-1.6 M9.30,257.70 h-1.6 M9.30,244.00 h-1.6 M9.30,230.30 h-1.6 M9.30,298.80 v1.4 M28.22,298.80 v1.4 M47.13,298.80 v1.4 M66.05,298.80 v1.4 M84.97,298.80 v1.4 " fill="none" stroke="#999" stroke-width="0.5"/>
<text font-size="2" transform="translate(2.90,261.10) rotate(-90)">Count</text>
</g>
</g>
<g>
<rect x="100.10" y="223.40" width="78.90" height="75.80" fill="none" stroke="#c2c2c2" stroke-width="0.7"/>
<clipPath id="c7"><path d="M100.20,298.75 C100.20,286.59 100.20,237.96 100.20,225.80 C100.43,225.80 101.37,225.80 101.60,225.80 C101.67,231.50 101.90,252.30 102.00,260.00 C102.10,267.70 102.10,268.48 102.20,272.00 C102.30,275.52 102.37,278.07 102.60,281.10 C102.83,284.13 103.12,287.97 103.60,290.20 C104.08,292.43 104.77,293.57 105.50,294.50 C106.23,295.43 107.33,295.80 108.00,295.80 C108.67,295.80 109.05,295.43 109.50,294.50 C109.95,293.57 110.50,290.92 110.70,290.20 C110.83,289.00 111.27,285.03 111.50,283.00 C111.73,280.97 111.93,279.75 112.10,278.00 C112.27,276.25 112.35,274.03 112.50,272.50 C112.65,270.97 112.72,270.10 113.00,268.80 C113.28,267.50 114.00,265.38 114.20,264.70 C114.38,265.38 115.07,267.50 115.30,268.80 C115.53,270.10 115.50,270.97 115.60,272.50 C115.70,274.03 115.82,276.25 115.90,278.00 C115.98,279.75 116.00,280.97 116.10,283.00 C116.20,285.03 116.33,288.33 116.50,290.20 C116.67,292.07 116.88,293.37 117.10,294.20 C117.32,295.03 117.52,295.23 117.80,295.20 C118.08,295.17 118.47,294.83 118.80,294.00 C119.13,293.17 119.63,290.83 119.80,290.20 C120.03,288.68 120.75,284.13 121.20,281.10 C121.65,278.07 121.97,276.68 122.50,272.00 C123.03,267.32 123.97,258.67 124.40,253.00 C124.83,247.33 124.88,241.98 125.10,238.00 C125.32,234.02 125.60,230.58 125.70,229.10 C125.83,229.83 126.37,232.77 126.50,233.50 C126.63,233.02 127.17,231.08 127.30,230.60 C127.45,232.17 127.95,236.27 128.20,240.00 C128.45,243.73 128.68,247.67 128.80,253.00 C128.92,258.33 128.70,265.80 128.90,272.00 C129.10,278.20 129.72,286.03 130.00,290.20 C130.28,294.37 130.38,295.57 130.60,297.00 C130.82,298.43 130.57,298.46 131.30,298.75 C132.03,299.04 127.05,298.75 135.00,298.75 C142.95,298.75 171.67,298.75 179.00,298.75 L179.00,299.70 L100.20,299.70 Z"/></clipPath>
<path d="M100.20,298.75 C100.20,286.59 100.20,237.96 100.20,225.80 C100.43,225.80 101.37,225.80 101.60,225.80 C101.67,231.50 101.90,252.30 102.00,260.00 C102.10,267.70 102.10,268.48 102.20,272.00 C102.30,275.52 102.37,278.07 102.60,281.10 C102.83,284.13 103.12,287.97 103.60,290.20 C104.08,292.43 104.77,293.57 105.50,294.50 C106.23,295.43 107.33,295.80 108.00,295.80 C108.67,295.80 109.05,295.43 109.50,294.50 C109.95,293.57 110.50,290.92 110.70,290.20 C110.83,289.00 111.27,285.03 111.50,283.00 C111.73,280.97 111.93,279.75 112.10,278.00 C112.27,276.25 112.35,274.03 112.50,272.50 C112.65,270.97 112.72,270.10 113.00,268.80 C113.28,267.50 114.00,265.38 114.20,264.70 C114.38,265.38 115.07,267.50 115.30,268.80 C115.53,270.10 115.50,270.97 115.60,272.50 C115.70,274.03 115.82,276.25 115.90,278.00 C115.98,279.75 116.00,280.97 116.10,283.00 C116.20,285.03 116.33,288.33 116.50,290.20 C116.67,292.07 116.88,293.37 117.10,294.20 C117.32,295.03 117.52,295.23 117.80,295.20 C118.08,295.17 118.47,294.83 118.80,294.00 C119.13,293.17 119.63,290.83 119.80,290.20 C120.03,288.68 120.75,284.13 121.20,281.10 C121.65,278.07 121.97,276.68 122.50,272.00 C123.03,267.32 123.97,258.67 124.40,253.00 C124.83,247.33 124.88,241.98 125.10,238.00 C125.32,234.02 125.60,230.58 125.70,229.10 C125.83,229.83 126.37,232.77 126.50,233.50 C126.63,233.02 127.17,231.08 127.30,230.60 C127.45,232.17 127.95,236.27 128.20,240.00 C128.45,243.73 128.68,247.67 128.80,253.00 C128.92,258.33 128.70,265.80 128.90,272.00 C129.10,278.20 129.72,286.03 130.00,290.20 C130.28,294.37 130.38,295.57 130.60,297.00 C130.82,298.43 130.57,298.46 131.30,298.75 C132.03,299.04 127.05,298.75 135.00,298.75 C142.95,298.75 171.67,298.75 179.00,298.75 L179.00,299.70 L100.20,299.70 Z" fill="#999" stroke="none"/>
<path d="M100.20,298.75 C100.20,286.59 100.20,237.96 100.20,225.80 C100.43,225.80 101.37,225.80 101.60,225.80 C101.67,231.50 101.90,252.30 102.00,260.00 C102.10,267.70 102.10,268.48 102.20,272.00 C102.30,275.52 102.37,278.07 102.60,281.10 C102.83,284.13 103.12,287.97 103.60,290.20 C104.08,292.43 104.77,293.57 105.50,294.50 C106.23,295.43 107.33,295.80 108.00,295.80 C108.67,295.80 109.05,295.43 109.50,294.50 C109.95,293.57 110.50,290.92 110.70,290.20 C110.83,289.00 111.27,285.03 111.50,283.00 C111.73,280.97 111.93,279.75 112.10,278.00 C112.27,276.25 112.35,274.03 112.50,272.50 C112.65,270.97 112.72,270.10 113.00,268.80 C113.28,267.50 114.00,265.38 114.20,264.70 C114.38,265.38 115.07,267.50 115.30,268.80 C115.53,270.10 115.50,270.97 115.60,272.50 C115.70,274.03 115.82,276.25 115.90,278.00 C115.98,279.75 116.00,280.97 116.10,283.00 C116.20,285.03 116.33,288.33 116.50,290.20 C116.67,292.07 116.88,293.37 117.10,294.20 C117.32,295.03 117.52,295.23 117.80,295.20 C118.08,295.17 118.47,294.83 118.80,294.00 C119.13,293.17 119.63,290.83 119.80,290.20 C120.03,288.68 120.75,284.13 121.20,281.10 C121.65,278.07 121.97,276.68 122.50,272.00 C123.03,267.32 123.97,258.67 124.40,253.00 C124.83,247.33 124.88,241.98 125.10,238.00 C125.32,234.02 125.60,230.58 125.70,229.10 C125.83,229.83 126.37,232.77 126.50,233.50 C126.63,233.02 127.17,231.08 127.30,230.60 C127.45,232.17 127.95,236.27 128.20,240.00 C128.45,243.73 128.68,247.67 128.80,253.00 C128.92,258.33 128.70,265.80 128.90,272.00 C129.10,278.20 129.72,286.03 130.00,290.20 C130.28,294.37 130.38,295.57 130.60,297.00 C130.82,298.43 130.57,298.46 131.30,298.75 C132.03,299.04 127.05,298.75 135.00,298.75 C142.95,298.75 171.67,298.75 179.00,298.75" clip-path="url(#c7)" fill="none" stroke="#444" stroke-width="1.9" stroke-linejoin="round"/>
<path d="M100.10,283.40 H109.40 M100.10,281.90 v3 M109.40,281.90 v3 M109.40,280.20 H116.20 M109.40,278.70 v3 M116.20,278.70 v3 M116.20,285.20 H121.20 M116.20,283.70 v3 M121.20,283.70 v3 M121.20,280.40 H131.60 M121.20,278.90 v3 M131.60,278.90 v3 " fill="none" stroke="#383838" stroke-width="0.85"/>
<g font-family="'Liberation Sans', sans-serif" font-size="1.9" font-weight="bold" fill="#222" text-anchor="middle">
<text x="100.10" y="303.70">0</text>
<text x="119.14" y="303.70">50K</text>
<text x="138.18" y="303.70">100K</text>
<text x="157.21" y="303.70">150K</text>
<text x="176.25" y="303.70">200K</text>
<text x="139.55" y="306.90">FL2-A :: PE-A</text>
<text x="97.90" y="282.30" text-anchor="end">100</text>
<text x="97.90" y="264.60" text-anchor="end">200</text>
<text x="97.90" y="246.90" text-anchor="end">300</text>
<text x="97.90" y="229.20" text-anchor="end">400</text>
<path d="M100.10,281.50 h-1.6 M100.10,263.80 h-1.6 M100.10,246.10 h-1.6 M100.10,228.40 h-1.6 M100.10,299.20 v1.4 M119.14,299.20 v1.4 M138.18,299.20 v1.4 M157.21,299.20 v1.4 M176.25,299.20 v1.4 " fill="none" stroke="#999" stroke-width="0.5"/>
<text font-size="2" transform="translate(93.70,261.30) rotate(-90)">Count</text>
</g>
</g>
<g>
<rect x="192.30" y="223.80" width="78.20" height="75.70" fill="none" stroke="#c2c2c2" stroke-width="0.7"/>
<clipPath id="c8"><path d="M192.40,299.05 C192.40,294.21 192.40,274.84 192.40,270.00 C192.53,270.03 193.07,270.17 193.20,270.20 C193.25,272.02 193.37,277.77 193.50,281.10 C193.63,284.43 193.70,287.78 194.00,290.20 C194.30,292.62 194.60,294.52 195.30,295.60 C196.00,296.68 197.33,296.57 198.20,296.70 C199.07,296.83 199.90,296.58 200.50,296.40 C201.10,296.22 201.58,295.73 201.80,295.60 C201.95,294.70 202.42,292.62 202.70,290.20 C202.98,287.78 203.27,284.13 203.50,281.10 C203.73,278.07 203.92,276.68 204.10,272.00 C204.28,267.32 204.30,259.85 204.60,253.00 C204.90,246.15 205.68,234.58 205.90,230.90 C206.08,234.58 206.80,246.15 207.00,253.00 C207.20,259.85 207.02,267.32 207.10,272.00 C207.18,276.68 207.32,278.07 207.50,281.10 C207.68,284.13 207.87,287.93 208.20,290.20 C208.53,292.47 209.03,293.78 209.50,294.70 C209.97,295.62 210.38,295.47 211.00,295.70 C211.62,295.93 212.45,296.18 213.20,296.10 C213.95,296.02 214.82,295.50 215.50,295.20 C216.18,294.90 216.78,294.40 217.30,294.30 C217.82,294.20 218.23,294.38 218.60,294.60 C218.97,294.82 219.20,295.03 219.50,295.60 C219.80,296.17 220.08,297.43 220.40,298.00 C220.72,298.57 220.63,298.88 221.40,299.05 C222.17,299.23 216.82,299.05 225.00,299.05 C233.18,299.05 262.92,299.05 270.50,299.05 L270.50,300.00 L192.40,300.00 Z"/></clipPath>
<path d="M192.40,299.05 C192.40,294.21 192.40,274.84 192.40,270.00 C192.53,270.03 193.07,270.17 193.20,270.20 C193.25,272.02 193.37,277.77 193.50,281.10 C193.63,284.43 193.70,287.78 194.00,290.20 C194.30,292.62 194.60,294.52 195.30,295.60 C196.00,296.68 197.33,296.57 198.20,296.70 C199.07,296.83 199.90,296.58 200.50,296.40 C201.10,296.22 201.58,295.73 201.80,295.60 C201.95,294.70 202.42,292.62 202.70,290.20 C202.98,287.78 203.27,284.13 203.50,281.10 C203.73,278.07 203.92,276.68 204.10,272.00 C204.28,267.32 204.30,259.85 204.60,253.00 C204.90,246.15 205.68,234.58 205.90,230.90 C206.08,234.58 206.80,246.15 207.00,253.00 C207.20,259.85 207.02,267.32 207.10,272.00 C207.18,276.68 207.32,278.07 207.50,281.10 C207.68,284.13 207.87,287.93 208.20,290.20 C208.53,292.47 209.03,293.78 209.50,294.70 C209.97,295.62 210.38,295.47 211.00,295.70 C211.62,295.93 212.45,296.18 213.20,296.10 C213.95,296.02 214.82,295.50 215.50,295.20 C216.18,294.90 216.78,294.40 217.30,294.30 C217.82,294.20 218.23,294.38 218.60,294.60 C218.97,294.82 219.20,295.03 219.50,295.60 C219.80,296.17 220.08,297.43 220.40,298.00 C220.72,298.57 220.63,298.88 221.40,299.05 C222.17,299.23 216.82,299.05 225.00,299.05 C233.18,299.05 262.92,299.05 270.50,299.05 L270.50,300.00 L192.40,300.00 Z" fill="#999" stroke="none"/>
<path d="M192.40,299.05 C192.40,294.21 192.40,274.84 192.40,270.00 C192.53,270.03 193.07,270.17 193.20,270.20 C193.25,272.02 193.37,277.77 193.50,281.10 C193.63,284.43 193.70,287.78 194.00,290.20 C194.30,292.62 194.60,294.52 195.30,295.60 C196.00,296.68 197.33,296.57 198.20,296.70 C199.07,296.83 199.90,296.58 200.50,296.40 C201.10,296.22 201.58,295.73 201.80,295.60 C201.95,294.70 202.42,292.62 202.70,290.20 C202.98,287.78 203.27,284.13 203.50,281.10 C203.73,278.07 203.92,276.68 204.10,272.00 C204.28,267.32 204.30,259.85 204.60,253.00 C204.90,246.15 205.68,234.58 205.90,230.90 C206.08,234.58 206.80,246.15 207.00,253.00 C207.20,259.85 207.02,267.32 207.10,272.00 C207.18,276.68 207.32,278.07 207.50,281.10 C207.68,284.13 207.87,287.93 208.20,290.20 C208.53,292.47 209.03,293.78 209.50,294.70 C209.97,295.62 210.38,295.47 211.00,295.70 C211.62,295.93 212.45,296.18 213.20,296.10 C213.95,296.02 214.82,295.50 215.50,295.20 C216.18,294.90 216.78,294.40 217.30,294.30 C217.82,294.20 218.23,294.38 218.60,294.60 C218.97,294.82 219.20,295.03 219.50,295.60 C219.80,296.17 220.08,297.43 220.40,298.00 C220.72,298.57 220.63,298.88 221.40,299.05 C222.17,299.23 216.82,299.05 225.00,299.05 C233.18,299.05 262.92,299.05 270.50,299.05" clip-path="url(#c8)" fill="none" stroke="#444" stroke-width="1.9" stroke-linejoin="round"/>
<path d="M192.30,283.40 H201.60 M192.30,281.90 v3 M201.60,281.90 v3 M201.60,280.90 H208.20 M201.60,279.40 v3 M208.20,279.40 v3 M208.20,284.00 H214.50 M208.20,282.50 v3 M214.50,282.50 v3 " fill="none" stroke="#383838" stroke-width="0.85"/>
<path d="M214.50,281.50 H221.80 M214.50,280.00 v3 M221.80,280.00 v3 " fill="none" stroke="#606060" stroke-width="0.85"/>
<g font-family="'Liberation Sans', sans-serif" font-size="1.9" font-weight="bold" fill="#222" text-anchor="middle">
<text x="192.30" y="304.00">0</text>
<text x="211.17" y="304.00">50K</text>
<text x="230.04" y="304.00">100K</text>
<text x="248.91" y="304.00">150K</text>
<text x="267.78" y="304.00">200K</text>
<text x="231.40" y="307.20">FL2-A :: PE-A</text>
<text x="190.10" y="286.90" text-anchor="end">100</text>
<text x="190.10" y="273.50" text-anchor="end">200</text>
<text x="190.10" y="260.10" text-anchor="end">300</text>
<text x="190.10" y="246.70" text-anchor="end">400</text>
<text x="190.10" y="233.30" text-anchor="end">500</text>
<path d="M192.30,286.10 h-1.6 M192.30,272.70 h-1.6 M192.30,259.30 h-1.6 M192.30,245.90 h-1.6 M192.30,232.50 h-1.6 M192.30,299.50 v1.4 M211.17,299.50 v1.4 M230.04,299.50 v1.4 M248.91,299.50 v1.4 M267.78,299.50 v1.4 " fill="none" stroke="#999" stroke-width="0.5"/>
<text font-size="2" transform="translate(185.90,261.65) rotate(-90)">Count</text>
</g>
</g>
<g>
<rect x="283.40" y="224.30" width="78.60" height="75.90" fill="none" stroke="#c2c2c2" stroke-width="0.7"/>
<clipPath id="c9"><path d="M283.50,299.75 C283.50,299.14 283.50,296.71 283.50,296.10 C283.62,296.13 284.08,296.27 284.20,296.30 C284.28,296.75 284.50,298.43 284.70,299.00 C284.90,299.57 284.68,299.62 285.40,299.75 C286.12,299.88 287.82,299.75 289.00,299.75 C290.18,299.75 291.78,299.88 292.50,299.75 C293.22,299.62 293.17,299.12 293.30,299.00 C293.52,298.75 294.25,298.97 294.60,297.50 C294.95,296.03 295.17,292.93 295.40,290.20 C295.63,287.47 295.82,284.13 296.00,281.10 C296.18,278.07 296.35,276.68 296.50,272.00 C296.65,267.32 296.73,259.28 296.90,253.00 C297.07,246.72 297.40,237.42 297.50,234.30 C297.62,237.42 298.08,246.72 298.20,253.00 C298.32,259.28 298.15,267.32 298.20,272.00 C298.25,276.68 298.30,278.07 298.50,281.10 C298.70,284.13 298.90,288.38 299.40,290.20 C299.90,292.02 300.85,291.53 301.50,292.00 C302.15,292.47 302.70,292.77 303.30,293.00 C303.90,293.23 304.48,293.37 305.10,293.40 C305.72,293.43 306.40,293.35 307.00,293.20 C307.60,293.05 308.23,292.87 308.70,292.50 C309.17,292.13 309.50,291.62 309.80,291.00 C310.10,290.38 310.38,289.17 310.50,288.80 C310.58,289.33 310.77,290.55 311.00,292.00 C311.23,293.45 311.65,296.28 311.90,297.50 C312.15,298.72 312.27,298.93 312.50,299.30 C312.73,299.68 312.55,299.68 313.30,299.75 C314.05,299.82 308.88,299.75 317.00,299.75 C325.12,299.75 354.50,299.75 362.00,299.75 L362.00,300.70 L283.50,300.70 Z"/></clipPath>
<path d="M283.50,299.75 C283.50,299.14 283.50,296.71 283.50,296.10 C283.62,296.13 284.08,296.27 284.20,296.30 C284.28,296.75 284.50,298.43 284.70,299.00 C284.90,299.57 284.68,299.62 285.40,299.75 C286.12,299.88 287.82,299.75 289.00,299.75 C290.18,299.75 291.78,299.88 292.50,299.75 C293.22,299.62 293.17,299.12 293.30,299.00 C293.52,298.75 294.25,298.97 294.60,297.50 C294.95,296.03 295.17,292.93 295.40,290.20 C295.63,287.47 295.82,284.13 296.00,281.10 C296.18,278.07 296.35,276.68 296.50,272.00 C296.65,267.32 296.73,259.28 296.90,253.00 C297.07,246.72 297.40,237.42 297.50,234.30 C297.62,237.42 298.08,246.72 298.20,253.00 C298.32,259.28 298.15,267.32 298.20,272.00 C298.25,276.68 298.30,278.07 298.50,281.10 C298.70,284.13 298.90,288.38 299.40,290.20 C299.90,292.02 300.85,291.53 301.50,292.00 C302.15,292.47 302.70,292.77 303.30,293.00 C303.90,293.23 304.48,293.37 305.10,293.40 C305.72,293.43 306.40,293.35 307.00,293.20 C307.60,293.05 308.23,292.87 308.70,292.50 C309.17,292.13 309.50,291.62 309.80,291.00 C310.10,290.38 310.38,289.17 310.50,288.80 C310.58,289.33 310.77,290.55 311.00,292.00 C311.23,293.45 311.65,296.28 311.90,297.50 C312.15,298.72 312.27,298.93 312.50,299.30 C312.73,299.68 312.55,299.68 313.30,299.75 C314.05,299.82 308.88,299.75 317.00,299.75 C325.12,299.75 354.50,299.75 362.00,299.75 L362.00,300.70 L283.50,300.70 Z" fill="#999" stroke="none"/>
<path d="M283.50,299.75 C283.50,299.14 283.50,296.71 283.50,296.10 C283.62,296.13 284.08,296.27 284.20,296.30 C284.28,296.75 284.50,298.43 284.70,299.00 C284.90,299.57 284.68,299.62 285.40,299.75 C286.12,299.88 287.82,299.75 289.00,299.75 C290.18,299.75 291.78,299.88 292.50,299.75 C293.22,299.62 293.17,299.12 293.30,299.00 C293.52,298.75 294.25,298.97 294.60,297.50 C294.95,296.03 295.17,292.93 295.40,290.20 C295.63,287.47 295.82,284.13 296.00,281.10 C296.18,278.07 296.35,276.68 296.50,272.00 C296.65,267.32 296.73,259.28 296.90,253.00 C297.07,246.72 297.40,237.42 297.50,234.30 C297.62,237.42 298.08,246.72 298.20,253.00 C298.32,259.28 298.15,267.32 298.20,272.00 C298.25,276.68 298.30,278.07 298.50,281.10 C298.70,284.13 298.90,288.38 299.40,290.20 C299.90,292.02 300.85,291.53 301.50,292.00 C302.15,292.47 302.70,292.77 303.30,293.00 C303.90,293.23 304.48,293.37 305.10,293.40 C305.72,293.43 306.40,293.35 307.00,293.20 C307.60,293.05 308.23,292.87 308.70,292.50 C309.17,292.13 309.50,291.62 309.80,291.00 C310.10,290.38 310.38,289.17 310.50,288.80 C310.58,289.33 310.77,290.55 311.00,292.00 C311.23,293.45 311.65,296.28 311.90,297.50 C312.15,298.72 312.27,298.93 312.50,299.30 C312.73,299.68 312.55,299.68 313.30,299.75 C314.05,299.82 308.88,299.75 317.00,299.75 C325.12,299.75 354.50,299.75 362.00,299.75" clip-path="url(#c9)" fill="none" stroke="#444" stroke-width="1.9" stroke-linejoin="round"/>
<path d="M293.50,281.10 H299.20 M293.50,279.60 v3 M299.20,279.60 v3 M299.20,285.50 H306.60 M299.20,284.00 v3 M306.60,284.00 v3 " fill="none" stroke="#383838" stroke-width="0.85"/>
<path d="M283.40,283.60 H293.50 M283.40,282.10 v3 M293.50,282.10 v3 M306.60,281.50 H313.30 M306.60,280.00 v3 M313.30,280.00 v3 " fill="none" stroke="#606060" stroke-width="0.85"/>
<g font-family="'Liberation Sans', sans-serif" font-size="1.9" font-weight="bold" fill="#222" text-anchor="middle">
<text x="283.40" y="304.70">0</text>
<text x="302.37" y="304.70">50K</text>
<text x="321.33" y="304.70">100K</text>
<text x="340.30" y="304.70">150K</text>
<text x="359.26" y="304.70">200K</text>
<text x="322.70" y="307.90">FL2-A :: PE-A</text>
<text x="281.20" y="276.80" text-anchor="end">100</text>
<text x="281.20" y="252.60" text-anchor="end">200</text>
<text x="281.20" y="228.40" text-anchor="end">300</text>
<path d="M283.40,276.00 h-1.6 M283.40,251.80 h-1.6 M283.40,227.60 h-1.6 M283.40,300.20 v1.4 M302.37,300.20 v1.4 M321.33,300.20 v1.4 M340.30,300.20 v1.4 M359.26,300.20 v1.4 " fill="none" stroke="#999" stroke-width="0.5"/>
<text font-size="2" transform="translate(277.00,262.25) rotate(-90)">Count</text>
</g>
</g>
<g>
<rect x="376.40" y="223.40" width="78.30" height="75.60" fill="none" stroke="#c2c2c2" stroke-width="0.7"/>
<clipPath id="c10"><path d="M376.50,298.55 C376.50,297.46 376.50,293.09 376.50,292.00 C376.62,292.03 377.08,292.17 377.20,292.20 C377.28,292.92 377.45,295.45 377.70,296.50 C377.95,297.55 377.98,298.16 378.70,298.50 C379.42,298.84 380.87,298.54 382.00,298.55 C383.13,298.56 384.72,298.64 385.50,298.55 C386.28,298.46 386.50,298.09 386.70,298.00 C386.85,297.45 387.32,297.52 387.60,294.70 C387.88,291.88 388.22,284.88 388.40,281.10 C388.58,277.32 388.50,276.68 388.70,272.00 C388.90,267.32 389.32,259.52 389.60,253.00 C389.88,246.48 390.27,236.25 390.40,232.90 C390.53,236.25 391.12,246.48 391.20,253.00 C391.28,259.52 390.92,267.32 390.90,272.00 C390.88,276.68 391.00,278.07 391.10,281.10 C391.20,284.13 391.17,288.08 391.50,290.20 C391.83,292.32 392.43,293.03 393.10,293.80 C393.77,294.57 394.60,294.57 395.50,294.80 C396.40,295.03 397.67,295.20 398.50,295.20 C399.33,295.20 399.92,294.95 400.50,294.80 C401.08,294.65 401.57,294.53 402.00,294.30 C402.43,294.07 402.92,293.55 403.10,293.40 C403.22,293.67 403.57,294.32 403.80,295.00 C404.03,295.68 404.23,296.91 404.50,297.50 C404.77,298.09 404.65,298.38 405.40,298.55 C406.15,298.73 400.78,298.55 409.00,298.55 C417.22,298.55 447.08,298.55 454.70,298.55 L454.70,299.50 L376.50,299.50 Z"/></clipPath>
<path d="M376.50,298.55 C376.50,297.46 376.50,293.09 376.50,292.00 C376.62,292.03 377.08,292.17 377.20,292.20 C377.28,292.92 377.45,295.45 377.70,296.50 C377.95,297.55 377.98,298.16 378.70,298.50 C379.42,298.84 380.87,298.54 382.00,298.55 C383.13,298.56 384.72,298.64 385.50,298.55 C386.28,298.46 386.50,298.09 386.70,298.00 C386.85,297.45 387.32,297.52 387.60,294.70 C387.88,291.88 388.22,284.88 388.40,281.10 C388.58,277.32 388.50,276.68 388.70,272.00 C388.90,267.32 389.32,259.52 389.60,253.00 C389.88,246.48 390.27,236.25 390.40,232.90 C390.53,236.25 391.12,246.48 391.20,253.00 C391.28,259.52 390.92,267.32 390.90,272.00 C390.88,276.68 391.00,278.07 391.10,281.10 C391.20,284.13 391.17,288.08 391.50,290.20 C391.83,292.32 392.43,293.03 393.10,293.80 C393.77,294.57 394.60,294.57 395.50,294.80 C396.40,295.03 397.67,295.20 398.50,295.20 C399.33,295.20 399.92,294.95 400.50,294.80 C401.08,294.65 401.57,294.53 402.00,294.30 C402.43,294.07 402.92,293.55 403.10,293.40 C403.22,293.67 403.57,294.32 403.80,295.00 C404.03,295.68 404.23,296.91 404.50,297.50 C404.77,298.09 404.65,298.38 405.40,298.55 C406.15,298.73 400.78,298.55 409.00,298.55 C417.22,298.55 447.08,298.55 454.70,298.55 L454.70,299.50 L376.50,299.50 Z" fill="#999" stroke="none"/>
<path d="M376.50,298.55 C376.50,297.46 376.50,293.09 376.50,292.00 C376.62,292.03 377.08,292.17 377.20,292.20 C377.28,292.92 377.45,295.45 377.70,296.50 C377.95,297.55 377.98,298.16 378.70,298.50 C379.42,298.84 380.87,298.54 382.00,298.55 C383.13,298.56 384.72,298.64 385.50,298.55 C386.28,298.46 386.50,298.09 386.70,298.00 C386.85,297.45 387.32,297.52 387.60,294.70 C387.88,291.88 388.22,284.88 388.40,281.10 C388.58,277.32 388.50,276.68 388.70,272.00 C388.90,267.32 389.32,259.52 389.60,253.00 C389.88,246.48 390.27,236.25 390.40,232.90 C390.53,236.25 391.12,246.48 391.20,253.00 C391.28,259.52 390.92,267.32 390.90,272.00 C390.88,276.68 391.00,278.07 391.10,281.10 C391.20,284.13 391.17,288.08 391.50,290.20 C391.83,292.32 392.43,293.03 393.10,293.80 C393.77,294.57 394.60,294.57 395.50,294.80 C396.40,295.03 397.67,295.20 398.50,295.20 C399.33,295.20 399.92,294.95 400.50,294.80 C401.08,294.65 401.57,294.53 402.00,294.30 C402.43,294.07 402.92,293.55 403.10,293.40 C403.22,293.67 403.57,294.32 403.80,295.00 C404.03,295.68 404.23,296.91 404.50,297.50 C404.77,298.09 404.65,298.38 405.40,298.55 C406.15,298.73 400.78,298.55 409.00,298.55 C417.22,298.55 447.08,298.55 454.70,298.55" clip-path="url(#c10)" fill="none" stroke="#444" stroke-width="1.9" stroke-linejoin="round"/>
<path d="M376.40,282.50 H386.70 M376.40,281.00 v3 M386.70,281.00 v3 M386.70,280.40 H391.70 M386.70,278.90 v3 M391.70,278.90 v3 M391.70,285.20 H399.50 M391.70,283.70 v3 M399.50,283.70 v3 M399.50,281.10 H405.60 M399.50,279.60 v3 M405.60,279.60 v3 " fill="none" stroke="#383838" stroke-width="0.85"/>
<g font-family="'Liberation Sans', sans-serif" font-size="1.9" font-weight="bold" fill="#222" text-anchor="middle">
<text x="376.40" y="303.50">0</text>
<text x="395.29" y="303.50">50K</text>
<text x="414.19" y="303.50">100K</text>
<text x="433.08" y="303.50">150K</text>
<text x="451.97" y="303.50">200K</text>
<text x="415.55" y="306.70">FL2-A :: PE-A</text>
<text x="374.20" y="280.30" text-anchor="end">100</text>
<text x="374.20" y="260.80" text-anchor="end">200</text>
<text x="374.20" y="241.30" text-anchor="end">300</text>
<path d="M376.40,279.50 h-1.6 M376.40,260.00 h-1.6 M376.40,240.50 h-1.6 M376.40,299.00 v1.4 M395.29,299.00 v1.4 M414.19,299.00 v1.4 M433.08,299.00 v1.4 M451.97,299.00 v1.4 " fill="none" stroke="#999" stroke-width="0.5"/>
<text font-size="2" transform="translate(370.00,261.20) rotate(-90)">Count</text>
</g>
</g>
<g>
<rect x="467.50" y="223.40" width="79.00" height="76.10" fill="none" stroke="#c2c2c2" stroke-width="0.7"/>
<clipPath id="c11"><path d="M467.60,299.05 C467.60,286.84 467.60,238.01 467.60,225.80 C467.87,225.80 468.93,225.80 469.20,225.80 C469.22,233.50 469.23,262.78 469.30,272.00 C469.37,281.22 469.45,278.07 469.60,281.10 C469.75,284.13 469.90,287.93 470.20,290.20 C470.50,292.47 470.97,293.65 471.40,294.70 C471.83,295.75 472.35,296.12 472.80,296.50 C473.25,296.88 473.65,297.02 474.10,297.00 C474.55,296.98 475.05,296.78 475.50,296.40 C475.95,296.02 476.58,294.98 476.80,294.70 C476.95,293.95 477.40,292.47 477.70,290.20 C478.00,287.93 478.32,284.13 478.60,281.10 C478.88,278.07 479.08,276.68 479.40,272.00 C479.72,267.32 480.10,259.63 480.50,253.00 C480.90,246.37 481.58,235.67 481.80,232.20 C482.02,235.67 482.85,246.37 483.10,253.00 C483.35,259.63 483.17,267.32 483.30,272.00 C483.43,276.68 483.70,278.83 483.90,281.10 C484.10,283.37 484.08,284.23 484.50,285.60 C484.92,286.97 485.87,288.62 486.40,289.30 C486.93,289.98 487.10,289.77 487.70,289.70 C488.30,289.63 489.23,289.15 490.00,288.90 C490.77,288.65 491.67,288.25 492.30,288.20 C492.93,288.15 493.35,288.35 493.80,288.60 C494.25,288.85 494.57,288.68 495.00,289.70 C495.43,290.72 496.00,293.32 496.40,294.70 C496.80,296.08 497.05,297.27 497.40,298.00 C497.75,298.73 497.57,298.88 498.50,299.05 C499.43,299.23 495.00,299.05 503.00,299.05 C511.00,299.05 539.25,299.05 546.50,299.05 L546.50,300.00 L467.60,300.00 Z"/></clipPath>
<path d="M467.60,299.05 C467.60,286.84 467.60,238.01 467.60,225.80 C467.87,225.80 468.93,225.80 469.20,225.80 C469.22,233.50 469.23,262.78 469.30,272.00 C469.37,281.22 469.45,278.07 469.60,281.10 C469.75,284.13 469.90,287.93 470.20,290.20 C470.50,292.47 470.97,293.65 471.40,294.70 C471.83,295.75 472.35,296.12 472.80,296.50 C473.25,296.88 473.65,297.02 474.10,297.00 C474.55,296.98 475.05,296.78 475.50,296.40 C475.95,296.02 476.58,294.98 476.80,294.70 C476.95,293.95 477.40,292.47 477.70,290.20 C478.00,287.93 478.32,284.13 478.60,281.10 C478.88,278.07 479.08,276.68 479.40,272.00 C479.72,267.32 480.10,259.63 480.50,253.00 C480.90,246.37 481.58,235.67 481.80,232.20 C482.02,235.67 482.85,246.37 483.10,253.00 C483.35,259.63 483.17,267.32 483.30,272.00 C483.43,276.68 483.70,278.83 483.90,281.10 C484.10,283.37 484.08,284.23 484.50,285.60 C484.92,286.97 485.87,288.62 486.40,289.30 C486.93,289.98 487.10,289.77 487.70,289.70 C488.30,289.63 489.23,289.15 490.00,288.90 C490.77,288.65 491.67,288.25 492.30,288.20 C492.93,288.15 493.35,288.35 493.80,288.60 C494.25,288.85 494.57,288.68 495.00,289.70 C495.43,290.72 496.00,293.32 496.40,294.70 C496.80,296.08 497.05,297.27 497.40,298.00 C497.75,298.73 497.57,298.88 498.50,299.05 C499.43,299.23 495.00,299.05 503.00,299.05 C511.00,299.05 539.25,299.05 546.50,299.05 L546.50,300.00 L467.60,300.00 Z" fill="#999" stroke="none"/>
<path d="M467.60,299.05 C467.60,286.84 467.60,238.01 467.60,225.80 C467.87,225.80 468.93,225.80 469.20,225.80 C469.22,233.50 469.23,262.78 469.30,272.00 C469.37,281.22 469.45,278.07 469.60,281.10 C469.75,284.13 469.90,287.93 470.20,290.20 C470.50,292.47 470.97,293.65 471.40,294.70 C471.83,295.75 472.35,296.12 472.80,296.50 C473.25,296.88 473.65,297.02 474.10,297.00 C474.55,296.98 475.05,296.78 475.50,296.40 C475.95,296.02 476.58,294.98 476.80,294.70 C476.95,293.95 477.40,292.47 477.70,290.20 C478.00,287.93 478.32,284.13 478.60,281.10 C478.88,278.07 479.08,276.68 479.40,272.00 C479.72,267.32 480.10,259.63 480.50,253.00 C480.90,246.37 481.58,235.67 481.80,232.20 C482.02,235.67 482.85,246.37 483.10,253.00 C483.35,259.63 483.17,267.32 483.30,272.00 C483.43,276.68 483.70,278.83 483.90,281.10 C484.10,283.37 484.08,284.23 484.50,285.60 C484.92,286.97 485.87,288.62 486.40,289.30 C486.93,289.98 487.10,289.77 487.70,289.70 C488.30,289.63 489.23,289.15 490.00,288.90 C490.77,288.65 491.67,288.25 492.30,288.20 C492.93,288.15 493.35,288.35 493.80,288.60 C494.25,288.85 494.57,288.68 495.00,289.70 C495.43,290.72 496.00,293.32 496.40,294.70 C496.80,296.08 497.05,297.27 497.40,298.00 C497.75,298.73 497.57,298.88 498.50,299.05 C499.43,299.23 495.00,299.05 503.00,299.05 C511.00,299.05 539.25,299.05 546.50,299.05" clip-path="url(#c11)" fill="none" stroke="#444" stroke-width="1.9" stroke-linejoin="round"/>
<path d="M467.50,283.40 H476.60 M467.50,281.90 v3 M476.60,281.90 v3 M476.60,281.10 H484.10 M476.60,279.60 v3 M484.10,279.60 v3 M484.10,285.20 H489.40 M484.10,283.70 v3 M489.40,283.70 v3 " fill="none" stroke="#383838" stroke-width="0.85"/>
<path d="M489.40,281.10 H498.50 M489.40,279.60 v3 M498.50,279.60 v3 " fill="none" stroke="#606060" stroke-width="0.85"/>
<g font-family="'Liberation Sans', sans-serif" font-size="1.9" font-weight="bold" fill="#222" text-anchor="middle">
<text x="467.50" y="304.00">0</text>
<text x="486.56" y="304.00">50K</text>
<text x="505.62" y="304.00">100K</text>
<text x="524.69" y="304.00">150K</text>
<text x="543.75" y="304.00">200K</text>
<text x="507.00" y="307.20">FL2-A :: PE-A</text>
<text x="465.30" y="285.50" text-anchor="end">100</text>
<text x="465.30" y="270.70" text-anchor="end">200</text>
<text x="465.30" y="255.90" text-anchor="end">300</text>
<text x="465.30" y="241.10" text-anchor="end">400</text>
<text x="465.30" y="226.30" text-anchor="end">500</text>
<path d="M467.50,284.70 h-1.6 M467.50,269.90 h-1.6 M467.50,255.10 h-1.6 M467.50,240.30 h-1.6 M467.50,225.50 h-1.6 M467.50,299.50 v1.4 M486.56,299.50 v1.4 M505.62,299.50 v1.4 M524.69,299.50 v1.4 M543.75,299.50 v1.4 " fill="none" stroke="#999" stroke-width="0.5"/>
<text font-size="2" transform="translate(461.10,261.45) rotate(-90)">Count</text>
</g>
</g>
</svg>
</body></html>
